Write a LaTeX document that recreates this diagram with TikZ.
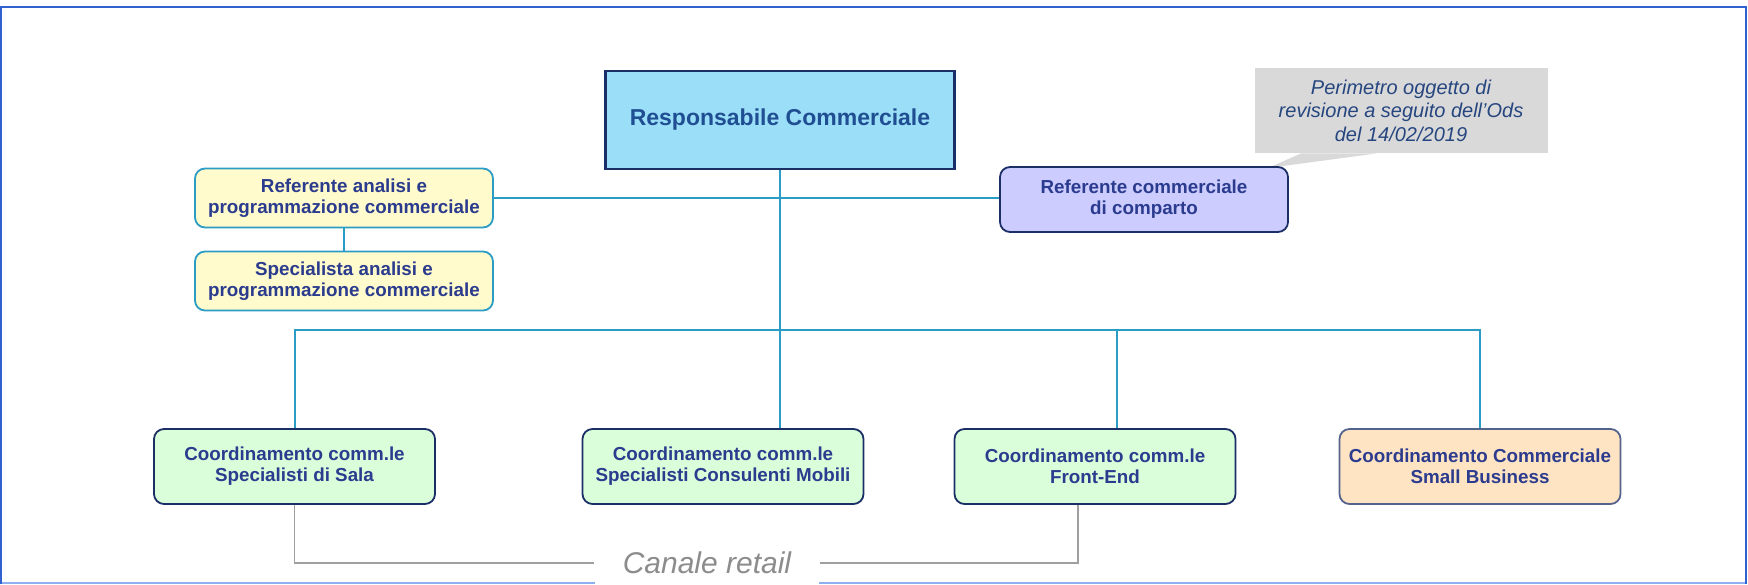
\documentclass[tikz,border=0pt]{standalone}
\usepackage{fontspec}
\setmainfont{Liberation Sans}

\definecolor{cornice}{HTML}{2F62D0}
\definecolor{cornicechiara}{HTML}{8FB0EE}
\definecolor{azzurro}{HTML}{9BDEF7}
\definecolor{blunotte}{HTML}{1B2F66}
\definecolor{giallino}{HTML}{FFFBCC}
\definecolor{ottanio}{HTML}{2B9CC4}
\definecolor{lilla}{HTML}{CCCCFF}
\definecolor{verdino}{HTML}{DAFDDA}
\definecolor{pesca}{HTML}{FFE4C4}
\definecolor{grigionota}{HTML}{D9D9D9}
\definecolor{testo}{HTML}{2B3B8E}
\definecolor{testoresp}{HTML}{1F4E92}
\definecolor{testonota}{HTML}{26467F}

\begin{document}
\begin{tikzpicture}[x=0.5pt,y=-0.5pt,
	every node/.style={font=\bfseries\fontsize{9.4}{10.5}\selectfont,text=testo,align=center,inner sep=0pt},
	casella/.style={draw=blunotte,rounded corners=5pt,line width=0.9pt,minimum width=140.5pt,minimum height=37.5pt},
	gialla/.style={casella,draw=ottanio,fill=giallino,minimum width=149pt,minimum height=29.5pt},
	linea/.style={draw=ottanio,line width=1pt},
	grigia/.style={draw=gray!75,line width=0.9pt}]
	\useasboundingbox (0,0) rectangle (1748,584);
	\draw[cornicechiara,line width=0.8pt] (1,583) -- (1746,583);
	\draw[cornice,line width=1.3pt] (1,584) -- (1,7) -- (1746,7) -- (1746,584);

	\node[draw=blunotte,line width=1.2pt,fill=azzurro,minimum width=174.5pt,minimum height=49pt,
		font=\bfseries\fontsize{11.5}{13}\selectfont,text=testoresp] (resp) at (780,120) {Responsabile Commerciale};
	\node[gialla] (refan) at (344,198) {Referente analisi e\\programmazione commerciale};
	\node[gialla] (specan) at (344,281) {Specialista analisi e\\programmazione commerciale};

	\node[fill=grigionota,minimum width=146.5pt,minimum height=42.5pt,
		font=\itshape\fontsize{10}{11.8}\selectfont,text=testonota] (nota) at (1401,110.5) {Perimetro oggetto di\\revisione a seguito dell'Ods\\del 14/02/2019};
	\coordinate (punta) at (1268,168);
	\fill[grigionota] ([xshift=-50pt]nota.south) -- (punta) -- ([xshift=-12pt]nota.south) -- cycle;
	\node[casella,fill=lilla,minimum width=144pt,minimum height=32.5pt] (refcomm) at (1144,199.5) {Referente commerciale\\di comparto};

	\node[casella,fill=verdino] (sala) at (294.5,466.5) {Coordinamento comm.le\\Specialisti di Sala};
	\node[casella,fill=verdino] (mobili) at (723,466.5) {Coordinamento comm.le\\Specialisti Consulenti Mobili};
	\node[casella,fill=verdino] (frontend) at (1095,466.5) {Coordinamento comm.le\\Front-End};
	\node[casella,draw=blunotte!75,fill=pesca] (small) at (1480,466.5) {Coordinamento Commerciale\\Small Business};

	\draw[linea] (refan.east) -- (refan.east -| refcomm.west);
	\draw[linea] (refan) -- (specan);
	\draw[linea] (resp.south) -- (resp.south |- mobili.north);
	\coordinate (bus) at (780,330);
	\draw[linea] (sala.north) |- (bus) -| (small.north);
	\draw[linea] ([xshift=11pt]frontend.north) -- ([xshift=11pt]frontend.north |- bus);

	\node[fill=white,inner xsep=14pt,minimum height=25pt,font=\itshape\fontsize{15}{18}\selectfont,text=gray!90] (retail) at (707,563) {Canale retail};
	\draw[grigia] (sala.south) |- (retail.west);
	\draw[grigia] (retail.east) -| ([xshift=-8.5pt]frontend.south);
\end{tikzpicture}
\end{document}
